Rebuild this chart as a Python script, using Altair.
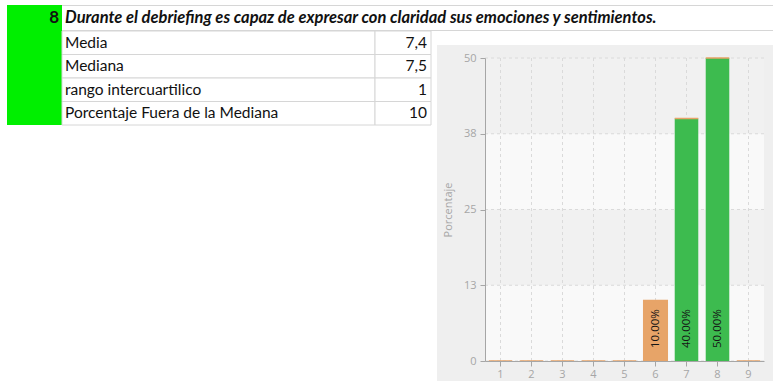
import altair as alt
import pandas as pd

# ---------------- data ----------------
TITLE_NUMBER = "8"
TITLE_TEXT = "Durante el debriefing es capaz de expresar con claridad sus emociones y sentimientos."
STAT_NAMES = ["Media", "Mediana", "rango intercuartilico", "Porcentaje Fuera de la Mediana"]
STAT_VALUES = ["7,4", "7,5", "1", "10"]

CATEGORIES = ["1", "2", "3", "4", "5", "6", "7", "8", "9"]
PCT_DENTRO = [0, 0, 0, 0, 0, 0, 40, 50, 0]      # green series
PCT_FUERA = [0, 0, 0, 0, 0, 10, 0, 0, 0]        # orange series
BAR_LABELS = ["", "", "", "", "", "10.00%", "40.00%", "50.00%", ""]
Y_TICKS = [0, 12.5, 25, 37.5, 50]
BAND_FROM = [12.5, 37.5]
BAND_TO = [25, 50]
Y_TITLE = "Porcentaje"

# ---------------- styles ----------------
W, H = 773, 381
GREEN_CELL = "#00ef00"
BAR_GREEN = "#3dbb4f"
BAR_ORANGE = "#e7a468"
PANEL = "#efefef"
PLOT_BG = "#f9f9f9"
BAND_BG = "#f1f1f1"
GRID = "#dadada"
AXIS_GREY = "#a6a6a6"
CELL_LINE = "#d6d6d6"
TABLE_FONT = "Lato"
CHART_FONT = "Open Sans"

stats_df = pd.DataFrame({"Estadistico": STAT_NAMES, "Valor": STAT_VALUES})
bars_df = pd.DataFrame({"Respuesta": CATEGORIES, "Dentro": PCT_DENTRO,
                        "Fuera": PCT_FUERA, "Etiqueta": BAR_LABELS})
ticks_df = pd.DataFrame({"tick": Y_TICKS})
bands_df = pd.DataFrame({"desde": BAND_FROM, "hasta": BAND_TO})
blank = pd.DataFrame({"k": [0]})

# ---------------- decoration (spreadsheet) ----------------
panel = alt.Chart(blank).mark_rect(fill=PANEL).encode(
    x=alt.value(437), x2=alt.value(W), y=alt.value(45), y2=alt.value(H))
green_cell = alt.Chart(blank).mark_rect(fill=GREEN_CELL).encode(
    x=alt.value(7), x2=alt.value(62), y=alt.value(5), y2=alt.value(125))
top_line = alt.Chart(blank).mark_rule(color=CELL_LINE, strokeWidth=1).encode(
    x=alt.value(62), x2=alt.value(W), y=alt.value(5.5))
title_line = alt.Chart(blank).mark_rule(color=CELL_LINE, strokeWidth=1).encode(
    x=alt.value(62), x2=alt.value(W), y=alt.value(30.5))
num_text = alt.Chart(blank).mark_text(
    align="right", baseline="middle", font=TABLE_FONT, fontSize=17,
    fontWeight="bold", color="#111").encode(
    x=alt.value(59), y=alt.value(18), text=alt.value(TITLE_NUMBER))
title_text = alt.Chart(blank).mark_text(
    align="left", baseline="middle", font=TABLE_FONT, fontSize=16.5,
    fontWeight="bold", fontStyle="italic", color="#111").encode(
    x=alt.value(65), y=alt.value(18), text=alt.value(TITLE_TEXT))

# ---------------- table ----------------
y_tab = alt.Y("Estadistico:N", sort=STAT_NAMES, axis=None,
              scale=alt.Scale(domain=STAT_NAMES, range=[31, 125],
                              paddingInner=0, paddingOuter=0))
cell_a = alt.Chart(stats_df).mark_rect(fill="white", stroke=CELL_LINE, strokeWidth=1).encode(
    y=y_tab, x=alt.value(62), x2=alt.value(375))
cell_b = alt.Chart(stats_df).mark_rect(fill="white", stroke=CELL_LINE, strokeWidth=1).encode(
    y=y_tab, x=alt.value(375), x2=alt.value(431))
txt_a = alt.Chart(stats_df).mark_text(
    align="left", baseline="middle", font=TABLE_FONT, fontSize=15.5, color="#111").encode(
    y=y_tab, x=alt.value(65), text="Estadistico:N")
txt_b = alt.Chart(stats_df).mark_text(
    align="right", baseline="middle", font=TABLE_FONT, fontSize=15.5, color="#111").encode(
    y=y_tab, x=alt.value(427), text="Valor:N")

# ---------------- bar chart ----------------
# every layer carries the same explicit domain and pixel range, so the
# independent scales of the flat layer all map identically
x_scale = alt.Scale(domain=CATEGORIES, range=[485, 764], paddingInner=0.24, paddingOuter=0.12)
y_scale = alt.Scale(domain=[0, 50], range=[361, 58], nice=False, zero=True)

x_axis = alt.Axis(orient="bottom", offset=-20, title=None, labelAngle=0, grid=False,
                  labelColor=AXIS_GREY, labelFont=CHART_FONT, labelFontSize=11,
                  tickColor=AXIS_GREY, domainColor=AXIS_GREY, tickSize=5, labelPadding=2,
                  zindex=2)
y_axis = alt.Axis(orient="left", offset=-485, values=Y_TICKS, format=".0f", grid=False,
                  title=Y_TITLE, titleColor=AXIS_GREY, titleFont=CHART_FONT,
                  titleFontSize=11, titleFontWeight="normal", titlePadding=10,
                  labelColor=AXIS_GREY, labelFont=CHART_FONT, labelFontSize=11,
                  tickColor=AXIS_GREY, domainColor=AXIS_GREY, tickSize=5, labelPadding=4,
                  zindex=2)

x_plain = alt.X("Respuesta:N", scale=x_scale, axis=None)

plot_bg = alt.Chart(blank).mark_rect(fill=PLOT_BG).encode(
    x=alt.value(485), x2=alt.value(764),
    y=alt.Y(datum=50, scale=y_scale, axis=None), y2=alt.datum(0))
bands = alt.Chart(bands_df).mark_rect(fill=BAND_BG).encode(
    x=alt.value(485), x2=alt.value(764),
    y=alt.Y("desde:Q", scale=y_scale, axis=None), y2="hasta:Q")
hgrid = alt.Chart(ticks_df).mark_rule(color=GRID, strokeDash=[3, 3], strokeWidth=1).encode(
    x=alt.value(485), x2=alt.value(764),
    y=alt.Y("tick:Q", scale=y_scale, axis=None))
vgrid = alt.Chart(bars_df).mark_rule(color=GRID, strokeDash=[3, 3], strokeWidth=1).encode(
    x=alt.X("Respuesta:N", scale=x_scale, axis=None, bandPosition=0.5),
    y=alt.Y(datum=0, scale=y_scale, axis=None), y2=alt.datum(50))
green_bars = alt.Chart(bars_df).mark_bar(color=BAR_GREEN).encode(
    x=alt.X("Respuesta:N", scale=x_scale, axis=x_axis),
    y=alt.Y("Dentro:Q", scale=y_scale, axis=y_axis), y2=alt.datum(0))
orange_bars = alt.Chart(bars_df).transform_calculate(
    Tope="datum.Dentro + datum.Fuera").mark_bar(
    color=BAR_ORANGE, stroke=BAR_ORANGE, strokeWidth=1.5).encode(
    x=x_plain, y=alt.Y("Tope:Q", scale=y_scale, axis=None), y2="Dentro:Q")
labels = alt.Chart(bars_df).mark_text(
    angle=270, align="left", baseline="middle", dx=13, font=CHART_FONT,
    fontSize=11.5, color="#151515").encode(
    x=x_plain, y=alt.Y(datum=0, scale=y_scale, axis=None), text="Etiqueta:N")

chart = alt.layer(
    panel, green_cell, top_line, title_line, num_text, title_text,
    cell_a, cell_b, txt_a, txt_b,
    plot_bg, bands, hgrid, vgrid, green_bars, orange_bars, labels
).resolve_scale(x="independent", y="independent").properties(
    width=W, height=H, autosize="none", padding=0, background="white"
).configure_view(stroke=None)

chart.save("out.html", embed_options={"renderer": "svg", "actions": False})
